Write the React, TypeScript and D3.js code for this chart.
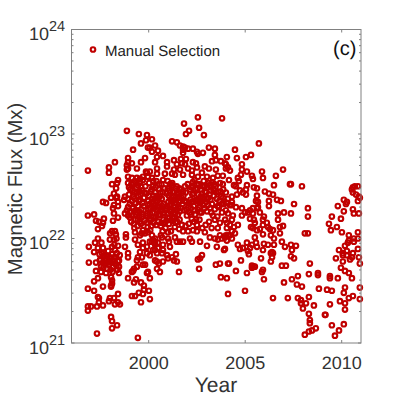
import React from "react";
import * as d3 from "d3";

const title = "(c)";
const legendLabel = "Manual Selection";
const xLabel = "Year";
const yLabel = "Magnetic Flux (Mx)";
const xTicks = [2000, 2005, 2010];
const yExponents = [21, 22, 23, 24];

// [year, log10 of flux in Mx]
const pointsLate: number[][] = [
[2007.37,22.52],[2007.94,22.50],[2007.53,22.33],[2007.37,22.24],[2008.25,22.29],[2008.25,22.21],[2008.09,22.05],[2008.25,22.05],[2007.37,21.94],[2007.63,21.93],[2007.42,21.89],[2007.37,21.83],[2007.53,21.81],[2008.35,21.76],[2008.30,21.66],[2008.77,21.67],[2008.77,21.65],[2007.73,21.64],[2007.42,21.61],[2007.68,21.56],[2007.94,21.54],[2008.82,21.52],[2009.24,21.51],[2009.49,21.50],[2009.39,21.64],[2009.39,21.62],[2009.80,21.62],[2007.73,21.43],[2007.89,21.41],[2007.89,21.38],[2008.15,21.38],[2007.99,21.33],[2008.30,21.44],[2008.56,21.36],[2008.30,21.28],[2008.35,21.22],[2008.35,21.19],[2008.09,21.08],[2008.30,21.11],[2008.46,21.12],[2008.66,21.14],[2009.13,21.27],[2009.16,21.27],[2009.39,21.37],[2009.49,21.17],[2009.65,21.07],[2009.86,21.12],[2010.11,21.18],[2010.17,21.32],[2010.17,21.38],[2009.91,21.40],[2010.11,21.48],[2010.17,21.53],[2010.37,21.43],[2010.58,21.45],[2010.94,21.42],[2010.94,21.53],[2010.94,21.76],[2010.89,21.82],[2010.84,21.90],[2010.84,22.06],[2010.43,21.80],[2010.53,21.82],[2009.70,21.81],[2009.86,21.89],[2010.06,21.86],[2010.06,21.84],[2010.27,21.88],[2010.27,21.84],[2010.58,21.86],[2010.06,21.78],[2009.96,21.72],[2010.17,21.69],[2010.37,21.67],[2010.53,21.62],[2010.17,21.93],[2010.32,21.96],[2010.37,21.98],[2010.63,21.97],[2010.84,22.00],[2010.63,22.00],[2010.37,22.03],[2009.34,22.14],[2009.44,22.08],[2009.75,22.11],[2010.01,22.06],[2009.49,22.21],[2009.96,22.19],[2010.11,22.26],[2009.80,22.31],[2010.11,22.37],[2010.27,22.35],[2010.22,22.33],[2010.58,22.28],[2010.63,22.24],[2010.89,22.24],[2010.53,22.47],[2010.58,22.49],[2010.68,22.50],[2010.84,22.50],[2010.58,22.44],[2010.74,22.42],[2010.84,22.36],[2010.94,22.39],[2010.89,22.40],
];

const pointsDecline: number[][] = [
[2005.71,22.91],[2004.47,22.85],[2004.05,22.78],[2004.57,22.77],[2005.04,22.78],[2005.30,22.80],[2004.83,22.71],[2004.83,22.66],[2005.09,22.64],[2005.87,22.64],[2006.96,22.66],[2006.59,22.60],[2005.92,22.58],[2005.35,22.60],[2005.40,22.57],[2004.21,22.65],[2004.00,22.71],[2004.00,22.67],[2004.78,22.61],[2004.62,22.58],[2004.67,22.55],[2004.16,22.56],[2004.42,22.51],[2004.52,22.50],[2005.09,22.51],[2005.04,22.47],[2004.73,22.46],[2004.57,22.42],[2004.88,22.44],[2005.04,22.42],[2005.45,22.49],[2005.61,22.48],[2006.49,22.51],[2007.32,22.52],[2006.02,22.45],[2006.23,22.43],[2006.44,22.42],[2006.65,22.37],[2006.85,22.36],[2006.23,22.36],[2006.23,22.31],[2005.61,22.41],[2005.56,22.36],[2005.66,22.35],[2007.01,22.25],[2006.70,22.24],[2006.70,22.18],[2005.97,22.21],[2004.83,22.22],[2004.31,22.32],[2004.11,22.24],[2004.00,22.27],
[2004.00,22.44],[2004.11,22.38],[2004.31,22.40],[2004.31,22.35],[2004.05,22.34],[2004.21,22.32],[2004.52,22.30],[2004.83,22.29],[2004.99,22.25],[2005.25,22.27],[2005.40,22.29],[2005.61,22.29],[2005.66,22.30],[2005.40,22.24],[2005.76,22.25],[2005.14,22.25],
[2005.25,22.19],[2005.45,22.18],[2005.50,22.15],[2005.92,22.18],[2006.12,22.15],[2005.92,22.13],[2006.18,22.11],[2005.30,22.11],[2005.40,22.10],[2005.76,22.09],[2005.92,22.04],[2006.28,22.09],[2006.44,22.08],[2006.80,22.11],[2006.96,22.12],[2006.80,22.05],[2005.61,22.08],[2006.33,22.03],[2006.49,22.00],[2005.50,22.01],
[2004.05,22.15],[2004.31,22.18],[2004.42,22.11],[2004.21,22.13],[2004.62,22.13],[2004.31,22.07],[2004.47,22.05],[2004.11,22.03],[2004.31,22.00],[2004.05,21.98],[2003.95,22.01],[2004.36,22.22],
[2004.62,21.94],[2004.73,21.90],[2004.88,21.91],[2005.09,21.96],[2005.25,21.91],[2005.35,21.94],[2005.14,21.88],[2005.19,21.85],[2005.56,21.96],[2005.61,21.92],[2005.97,21.95],[2005.92,21.89],[2006.18,21.94],[2006.49,21.94],[2006.39,21.87],[2006.33,21.86],[2006.44,21.86],[2006.39,21.82],[2006.33,21.78],[2006.90,21.97],[2007.06,21.92],[2005.82,21.81],[2004.78,21.79],[2004.16,21.76],[2004.52,21.69],[2005.09,21.67],[2005.35,21.72],[2005.45,21.73],[2005.35,21.74],[2005.50,21.73],[2005.92,21.70],[2005.87,21.68],[2005.97,21.61],[2003.95,21.90],[2006.90,21.74],[2007.11,21.74],[2007.01,21.58],[2007.21,21.43],[2006.44,21.43],[2004.99,21.50],[2004.11,21.47],[2004.05,21.62],
];

const pointsPeakTop: number[][] = [
[2002.55,23.16],[2003.80,23.15],[2001.83,23.10],[2002.61,23.06],[2002.09,23.03],[2001.93,23.00],[2002.86,22.99],[2000.17,22.95],[2001.21,22.93],[2001.46,22.92],[2000.33,22.89],[2001.62,22.89],[2001.78,22.88],[2001.88,22.87],[2002.04,22.86],[2001.78,22.85],[2002.29,22.86],[2002.50,22.83],[2002.55,22.81],[2002.81,22.82],[2003.12,22.87],[2003.43,22.86],[2000.06,22.87],[2000.17,22.83],[2000.48,22.84],[2000.74,22.79],[2000.43,22.78],[2000.33,22.73],[2001.78,22.82],[2003.43,22.80],[2003.48,22.75],[2003.28,22.74],[2003.74,22.74],[2003.95,22.72],[2004.11,22.68],
[2000.95,22.73],[2001.31,22.75],[2001.67,22.76],[2001.93,22.76],[2001.46,22.71],[2001.72,22.72],[2002.29,22.73],[2002.45,22.72],[2001.88,22.71],
[2000.95,22.69],[2001.31,22.66],[2001.62,22.66],[2002.04,22.67],[2002.24,22.65],[2002.50,22.68],[2002.91,22.69],[2003.12,22.67],[2003.48,22.66],[2003.84,22.60],[2003.58,22.60],[2002.76,22.63],[2001.21,22.62],[2000.74,22.56],[2000.43,22.67],[2000.17,22.58],[2000.43,22.62],[2000.84,22.62],[2001.36,22.61],[2001.78,22.61],[2002.24,22.61],[2002.55,22.59],[2003.02,22.59],[2003.33,22.58],[2001.21,22.51],[2002.29,22.54],[2003.17,22.51],[2003.84,22.52],
];

const pointsRiseTop: number[][] = [
[1998.87,23.03],[1999.49,23.00],[1999.91,22.99],[1999.86,22.94],[1999.60,22.91],[1999.96,22.87],[1999.19,22.85],[1999.81,22.77],[1999.60,22.73],[1998.93,22.77],[1998.93,22.73],[1999.13,22.72],[1998.87,22.70],[1998.87,22.66],[1998.93,22.67],[1998.25,22.73],[1997.94,22.68],[1997.94,22.63],[1996.85,22.65],[1999.39,22.67],
[1998.41,22.56],[1998.36,22.53],[1998.10,22.52],[1998.31,22.48],[1998.20,22.43],[1998.05,22.39],[1998.31,22.39],[1998.41,22.35],[1998.20,22.32],[1998.41,22.31],[1998.15,22.29],[1998.36,22.40],[1997.63,22.35],[1997.79,22.34],[1998.20,22.24],[1998.41,22.20],[1998.15,22.17],[1996.85,22.22],[1997.17,22.23],[1997.27,22.17],[1997.42,22.16],[1997.68,22.19],[1997.63,22.15],[1997.37,22.09],[1997.58,22.12],[1998.10,22.07],[1998.25,22.07],
[1998.77,22.40],[1998.93,22.38],[1998.72,22.37],[1998.87,22.27],[1998.93,22.30],[1998.77,22.24],[1999.03,22.25],[1998.93,22.22],[1999.03,22.20],[1998.93,22.59],[1998.93,22.53],[1999.13,22.58],[1999.39,22.58],[1999.55,22.57],[1998.98,22.49],[1999.19,22.53],[1999.44,22.51],[1999.70,22.59],[1999.91,22.63],[2000.06,22.64],[1999.86,22.64],[1999.70,22.56],[1999.96,22.59],
];

const pointsRiseLow: number[][] = [
[1997.32,21.09],[1999.44,21.05],[1998.36,21.17],[1998.10,21.14],[1998.05,21.25],[1998.10,21.21],[1996.85,21.31],[1996.85,21.35],[1997.01,21.35],[1997.32,21.35],[1997.63,21.36],[1997.42,21.39],[1997.37,21.44],[1997.42,21.43],[1996.85,21.52],[1997.17,21.50],[1997.63,21.54],[1998.05,21.54],[1998.41,21.47],[1998.20,21.43],[1997.99,21.43],[1997.94,21.40],[1998.25,21.37],[1998.41,21.39],[1998.51,21.37],[1999.29,21.45],[1999.13,21.45],[1999.49,21.48],[1999.70,21.47],[2000.01,21.50],[1999.75,21.51],[1999.60,21.39],[2000.06,21.42],
[1998.93,21.62],[1999.24,21.58],[1999.34,21.61],[1999.60,21.58],[1999.75,21.55],[1999.91,21.67],[2000.06,21.62],[1999.13,21.68],[1999.24,21.71],[2000.43,21.71],[2000.58,21.68],[1997.17,21.59],[1997.37,21.62],[1998.05,21.63],[1998.10,21.60],[1998.10,21.57],[1998.05,21.55],
[1996.90,21.77],[1997.27,21.77],[1997.27,21.69],[1997.53,21.68],[1997.79,21.67],[1997.53,21.73],[1997.84,21.71],[1998.15,21.73],[1998.46,21.67],[1998.46,21.73],
[1996.90,21.92],[1997.17,21.87],[1997.37,22.00],[1997.22,21.96],[1997.37,21.91],[1997.58,21.86],[1997.63,21.91],[1997.99,21.99],[1998.20,21.99],[1998.10,21.92],[1998.25,21.89],[1998.41,21.93],[1998.77,21.92],[1998.93,21.86],[1998.93,21.82],[1997.79,21.81],[1997.94,21.79],[1998.15,21.79],[1998.41,21.78],[1998.46,21.79],[1997.47,21.79],[1997.63,21.77],
[1997.45,21.85],[1997.70,21.84],[1997.85,21.83],[1998.0,21.82],[1998.1,21.85],[1998.3,21.82],[1998.35,21.86],[1997.75,21.76],[1997.95,21.75],[1998.05,21.77],[1998.25,21.76],[1998.33,21.74],[1998.0,22.05],[1998.3,22.04],[1998.33,22.0],[1998.82,22.04],[1998.82,22.01],
[1997.5,21.8],[1997.65,21.72],[1997.72,21.79],[1997.88,21.77],[1998.02,21.7],[1998.12,21.68],[1998.2,21.82],[1998.38,21.7],[1997.9,21.88],[1998.22,21.94],[1998.5,21.84],[1997.55,21.96],
[1999.29,22.06],[1999.55,22.03],[1999.29,21.99],[1999.44,21.94],[1999.70,21.96],[1999.91,21.92],[2000.06,21.97],[2000.33,21.96],[2000.22,21.89],[2000.43,21.86],[1999.91,21.86],[1999.55,21.87],[1999.70,21.91],[2000.06,21.84],[1999.44,21.82],[1999.39,21.79],[1999.65,21.82],[1999.70,21.75],[1999.81,21.75],[1999.39,21.73],[1999.19,21.69],[1999.96,21.68],[2000.74,21.78],[2000.33,21.79],[2000.43,21.78],[2000.95,21.84],[2001.21,21.82],[2001.31,21.79],[2000.74,21.89],[2001.10,21.92],[2000.63,22.03],[2001.0,22.06],[2000.74,21.94],[2000.33,22.00],[2000.17,22.03],[1999.81,22.05],[1999.96,22.06],
];

const pointsPeakLow: number[][] = [
[2001.57,21.68],[2002.61,21.71],[2003.48,21.75],[2003.69,21.76],[2004.11,21.76],[2003.74,21.63],[2002.66,21.81],[2002.76,21.84],[2002.55,21.80],[2000.53,21.76],[2001.46,21.78],[2001.0,21.81],[2001.41,21.85],
[2000.69,22.01],[2001.0,22.0],[2001.05,21.97],[2001.36,22.01],[2001.46,21.97],[2001.62,21.97],[2001.78,21.97],[2002.14,22.0],[2002.24,21.97],[2002.66,21.97],[2003.02,21.93],[2003.53,21.92],[2003.58,21.99],[2003.79,22.0],[2003.90,21.89],[2004.0,22.03],[2003.69,22.03],[2003.43,22.0],[2003.17,22.01],[2004.21,22.03],[2004.05,22.10],[2003.58,22.10],[2003.69,22.15],[2003.43,22.18],[2002.91,22.06],[2002.50,22.07],[2002.04,22.07],[2001.78,22.07],
[2000.22,21.99],[2000.48,21.96],[2000.48,21.91],[2000.69,21.86],[2000.33,21.94],[2000.17,21.97],[2000.33,21.89],
];

const core1999: number[][] = [
[1999.05,22.47],[1999.12,22.36],[1999.18,22.29],[1999.24,22.44],[1999.3,22.18],[1999.33,22.34],[1999.36,22.49],[1999.4,22.25],[1999.42,22.12],[1999.47,22.41],[1999.5,22.21],[1999.53,22.53],[1999.56,22.37],[1999.6,22.14],[1999.62,22.28],[1999.66,22.46],[1999.7,22.08],[1999.72,22.23],[1999.75,22.39],[1999.8,22.17],[1999.83,22.5],[1999.88,22.43],[1999.92,22.24],[1999.95,22.11],[1999.98,22.36],[1999.14,22.22],[1999.09,22.16],[1999.26,22.1],[1999.2,22.4],[1999.45,22.31],[1999.64,22.05],[1999.35,22.23],[1999.52,22.45],[1999.74,22.31],[1999.28,22.55],[1999.6,22.5],
[1998.98,22.42],[1999.02,22.33],[1999.07,22.26],[1999.1,22.52],[1999.16,22.46],[1999.22,22.14],[1999.27,22.38],[1999.31,22.27],[1999.38,22.44],[1999.43,22.18],[1999.48,22.36],[1999.5,22.26],[1999.55,22.16],[1999.58,22.42],[1999.65,22.21],[1999.68,22.34],[1999.78,22.44],[1999.85,22.22],[1999.9,22.15],[1999.97,22.28],
];
const core2000: number[][] = [
[2000.02,22.53],[2000.05,22.19],[2000.08,22.29],[2000.1,22.45],[2000.13,22.12],[2000.17,22.38],[2000.2,22.25],[2000.22,22.5],[2000.26,22.15],[2000.3,22.32],[2000.33,22.44],[2000.36,22.21],[2000.4,22.55],[2000.44,22.36],[2000.47,22.27],[2000.5,22.16],[2000.53,22.47],[2000.57,22.4],[2000.6,22.23],[2000.63,22.12],[2000.66,22.52],[2000.7,22.31],[2000.73,22.44],[2000.76,22.18],[2000.8,22.25],[2000.83,22.48],[2000.87,22.1],[2000.9,22.29],[2000.93,22.43],[2000.97,22.2],[2000.98,22.55],[2000.14,22.34],[2000.25,22.41],[2000.38,22.28],[2000.55,22.34],[2000.68,22.38],[2000.08,22.08],[2000.72,22.07],[2000.24,22.55],
[2000.0,22.41],[2000.04,22.33],[2000.07,22.24],[2000.12,22.18],[2000.16,22.47],[2000.2,22.35],[2000.23,22.2],[2000.27,22.29],[2000.31,22.38],[2000.35,22.49],[2000.39,22.13],[2000.42,22.4],[2000.46,22.31],[2000.5,22.22],[2000.54,22.52],[2000.58,22.3],[2000.61,22.44],[2000.64,22.27],[2000.67,22.15],[2000.75,22.24],[2000.78,22.33],[2000.82,22.15],[2000.86,22.27],[2000.92,22.17],[2000.95,22.31],[2000.99,22.48],
];
const core2001: number[][] = [
[2001.02,22.35],[2001.05,22.14],[2001.08,22.46],[2001.12,22.26],[2001.15,22.07],[2001.18,22.39],[2001.22,22.53],[2001.25,22.19],[2001.28,22.31],[2001.32,22.44],[2001.35,22.11],[2001.38,22.24],[2001.42,22.37],[2001.45,22.5],[2001.48,22.16],[2001.52,22.3],[2001.55,22.43],[2001.58,22.09],[2001.62,22.26],[2001.65,22.36],[2001.68,22.47],[2001.72,22.13],[2001.75,22.33],[2001.8,22.41],[2001.84,22.27],[2001.88,22.5],[2001.91,22.12],[2001.95,22.35],[2001.98,22.22],[2001.1,22.32],[2001.3,22.25],[2001.4,22.15],[2001.5,22.4],[2001.7,22.39],
[2001.01,22.24],[2001.04,22.41],[2001.07,22.2],[2001.11,22.52],[2001.14,22.37],[2001.17,22.28],[2001.2,22.17],[2001.24,22.45],[2001.27,22.37],[2001.33,22.2],[2001.36,22.3],[2001.39,22.48],[2001.43,22.27],[2001.47,22.42],[2001.51,22.23],[2001.56,22.35],[2001.59,22.48],[2001.6,22.18],[2001.66,22.29],[2001.78,22.45],[2001.86,22.36],[2001.92,22.44],[2001.96,22.28],
];
const core2002: number[][] = [
[2002.02,22.52],[2002.05,22.3],[2002.08,22.14],[2002.12,22.25],[2002.16,22.37],[2002.2,22.49],[2002.23,22.19],[2002.26,22.42],[2002.3,22.08],[2002.33,22.31],[2002.37,22.56],[2002.4,22.23],[2002.44,22.47],[2002.47,22.37],[2002.5,22.13],[2002.54,22.28],[2002.58,22.42],[2002.6,22.52],[2002.63,22.18],[2002.67,22.34],[2002.71,22.47],[2002.74,22.25],[2002.78,22.1],[2002.82,22.39],[2002.85,22.55],[2002.88,22.29],[2002.92,22.45],[2002.95,22.13],[2002.98,22.35],[2002.18,22.29],[2002.35,22.16],[2002.52,22.48],[2002.7,22.4],[2002.78,22.5],
[2002.1,22.34],[2002.14,22.47],[2002.2,22.23],[2002.24,22.35],[2002.28,22.5],[2002.34,22.43],[2002.38,22.27],[2002.42,22.36],[2002.46,22.18],[2002.5,22.52],[2002.56,22.36],[2002.61,22.3],[2002.66,22.25],[2002.72,22.36],[2002.76,22.43],[2002.84,22.32],[2002.9,22.5],[2002.97,22.44],
];
const core2003: number[][] = [
[2003.02,22.26],[2003.05,22.49],[2003.1,22.39],[2003.13,22.16],[2003.18,22.29],[2003.22,22.46],[2003.26,22.1],[2003.3,22.54],[2003.33,22.22],[2003.37,22.41],[2003.42,22.28],[2003.47,22.5],[2003.53,22.38],[2003.56,22.21],[2003.6,22.45],[2003.64,22.3],[2003.7,22.53],[2003.75,22.4],[2003.8,22.25],[2003.86,22.47],[2003.9,22.33],[2003.96,22.18],[2003.15,22.42],[2003.28,22.33],[2003.66,22.36],
[2003.0,22.38],[2003.08,22.32],[2003.12,22.53],[2003.2,22.37],[2003.24,22.25],[2003.35,22.47],[2003.4,22.52],[2003.5,22.44],[2003.58,22.31],[2003.72,22.45],[2003.78,22.33],[2003.85,22.39],
];

const allPoints = [...pointsRiseLow, ...pointsRiseTop, ...core1999, ...core2000, ...core2001, ...core2002, ...core2003, ...pointsPeakLow, ...pointsPeakTop, ...pointsDecline, ...pointsLate];

const RED = "#c00000";
const AXIS = "#808080";
const TEXT = "#333333";
const FONT = "'Liberation Sans', Arial, sans-serif";
const R = 2.3;
const SW = 2.1;

export default function App() {
  const x = d3.scaleLinear().domain([1996, 2011]).range([71.5, 361]);
  const y = d3.scaleLog().domain([1e21, 1e24]).range([343, 29.5]);
  const minors: number[] = [];
  [21, 22, 23].forEach((e) => d3.range(2, 10).forEach((m) => minors.push(m * 10 ** e)));
  const [x0, x1] = x.range();
  const [yb, yt] = y.range();
  return (
    <svg width={399} height={399} style={{ position: "absolute", left: 0, top: 0 }} fontFamily={FONT} textRendering="geometricPrecision">
      <g>
        {allPoints.map((d, i) => (
          <circle key={i} cx={x(d[0])} cy={y(10 ** d[1])} r={R} fill="none" stroke={RED} strokeWidth={SW} />
        ))}
      </g>
      <g stroke={AXIS} strokeWidth={1} fill="none">
        <rect x={x0} y={yt} width={x1 - x0} height={yb - yt} />
        {xTicks.map((t) => (
          <g key={t}>
            <line x1={x(t)} x2={x(t)} y1={yb} y2={yb - 3} />
            <line x1={x(t)} x2={x(t)} y1={yt} y2={yt + 3} />
          </g>
        ))}
        {yExponents.map((e) => (
          <g key={e}>
            <line x1={x0} x2={x0 + 3} y1={y(10 ** e)} y2={y(10 ** e)} />
            <line x1={x1} x2={x1 - 3} y1={y(10 ** e)} y2={y(10 ** e)} />
          </g>
        ))}
        {minors.map((v) => (
          <g key={v}>
            <line x1={x0} x2={x0 + 2} y1={y(v)} y2={y(v)} />
            <line x1={x1} x2={x1 - 2} y1={y(v)} y2={y(v)} />
          </g>
        ))}
      </g>
      <g fill={TEXT} fontSize={18} textAnchor="middle">
        {xTicks.map((t) => (
          <text key={t} x={x(t)} y={369}>{t}</text>
        ))}
      </g>
      <g fill={TEXT}>
        {yExponents.map((e) => (
          <g key={e}>
            <text x={49} y={y(10 ** e) + 10.5} fontSize={18} textAnchor="end">10</text>
            <text x={49} y={y(10 ** e) + 1.5} fontSize={14.5}>{e}</text>
          </g>
        ))}
      </g>
      <text x={216} y={392} fontSize={21} fill={TEXT} textAnchor="middle">{xLabel}</text>
      <text transform="translate(22,189) rotate(-90)" fontSize={20.3} fill={TEXT} textAnchor="middle">{yLabel}</text>
      <circle cx={93} cy={49.5} r={R} fill="none" stroke={RED} strokeWidth={SW} />
      <text x={105} y={55.5} fontSize={15} fill="#222222">{legendLabel}</text>
      <text x={333} y={55} fontSize={20} fill="#111111">{title}</text>
    </svg>
  );
}
